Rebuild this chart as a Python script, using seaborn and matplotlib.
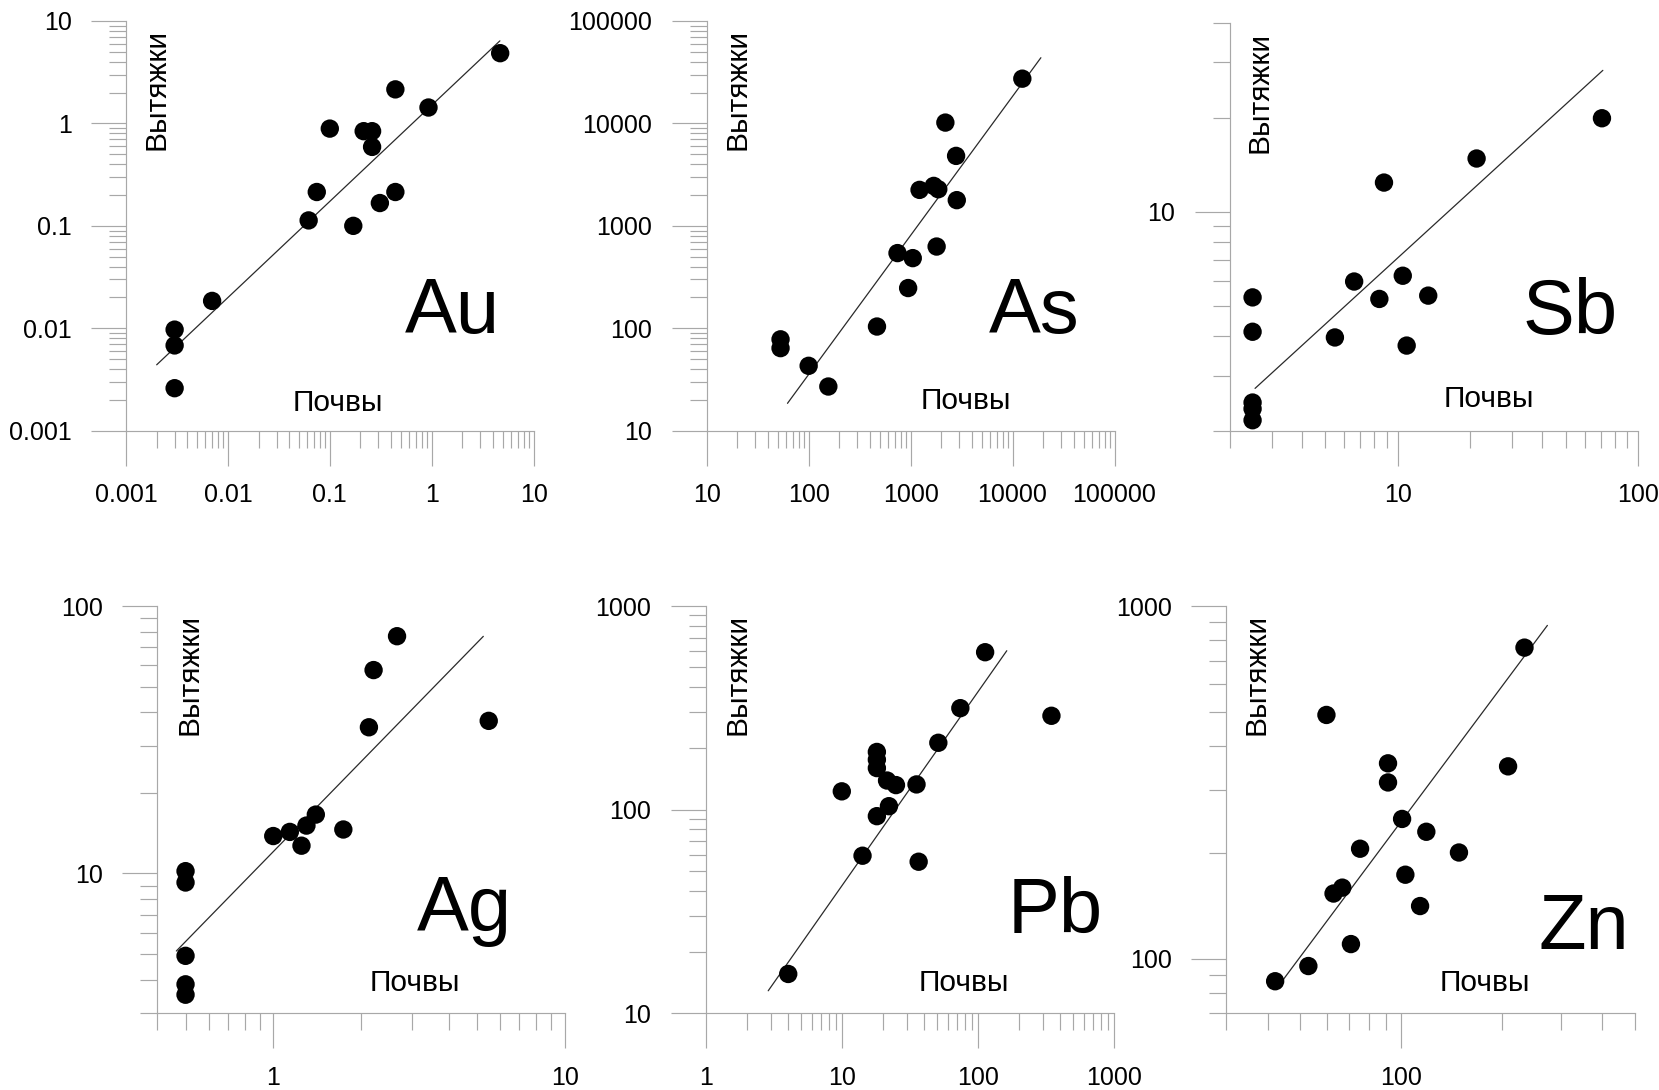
"""Six log-log scatter panels: element content in extracts vs soils.
"""
import numpy as np
import pandas as pd
import matplotlib
matplotlib.use("Agg")
import matplotlib.pyplot as plt
import seaborn as sns
from matplotlib.ticker import LogLocator, FuncFormatter, NullFormatter

# --- data (soil, extract), plus the drawn fit lines ---
au_soil = [0.003, 0.003, 0.003, 0.007, 0.062, 0.0745, 0.1, 0.17, 0.215, 0.26,
           0.26, 0.31, 0.44, 0.44, 0.93, 4.7]
au_extract = [0.0097, 0.0068, 0.0026, 0.0185, 0.113, 0.214, 0.89, 0.1, 0.84, 0.84,
              0.59, 0.167, 0.214, 2.15, 1.43, 4.85]
au_fit_x = [0.002, 4.67]
au_fit_y = [0.0044, 6.4]

as_soil = [53, 53, 100, 156, 468, 744, 1050, 946, 1224, 1686, 1868, 1800, 2838,
           2794, 2193, 12470]
as_extract = [78, 64, 43, 27, 104, 542, 484, 247, 2245, 2455, 2278, 628, 1782,
              4820, 10190, 27350]
as_fit_x = [62, 18960]
as_fit_y = [18.5, 43800]

sb_soil = [2.49, 2.49, 2.49, 2.49, 2.49, 5.48, 6.59, 8.39, 8.77, 10.5, 10.9, 13.4,
           21.3, 70.8]
sb_extract = [5.33, 4.14, 2.46, 2.35, 2.16, 3.97, 5.99, 5.27, 12.4, 6.25, 3.74, 5.4,
              14.8, 19.9]
sb_fit_x = [2.55, 71.4]
sb_fit_y = [2.73, 28.3]

ag_soil = [0.5, 0.5, 0.5, 0.5, 0.5, 1.0, 1.14, 1.25, 1.3, 1.4, 1.74, 2.13, 2.21,
           2.66, 5.49]
ag_extract = [10.2, 9.25, 4.92, 3.85, 3.52, 13.8, 14.3, 12.7, 15.1, 16.6, 14.6, 35.2,
              57.6, 77.1, 37.2]
ag_fit_x = [0.465, 5.26]
ag_fit_y = [5.13, 77]

pb_soil = [4.04, 10, 14.2, 18.1, 18.1, 18.1, 18.1, 22.2, 21.5, 25, 35.4, 36.7, 51.2,
           74.3, 113, 347]
pb_extract = [15.6, 123, 59.4, 92.9, 192, 176, 160, 104, 139, 132, 133, 55.5, 213,
              315, 593, 289]
pb_fit_x = [2.88, 163]
pb_fit_y = [12.9, 603]

zn_soil = [42, 52.8, 59.8, 62.8, 66.7, 70.8, 75.4, 91.4, 91.4, 100.7, 103, 114, 119,
           149, 209, 234]
zn_extract = [86.3, 95.3, 491, 153, 159, 110, 205, 358, 316, 249, 173, 141, 229, 200,
              351, 762]
zn_fit_x = [44.4, 274]
zn_fit_y = [87.2, 881]

x_label = 'Почвы'
y_label = 'Вытяжки'

sns.set_theme(style="ticks")
plt.rcParams['font.family'] = ['Liberation Sans', 'DejaVu Sans']

W, H = 1659, 1090
GREY = '#a8a8a8'

# name, soil, extract, fit x, fit y, xlim, ylim, box (left, right, top, bottom px),
# Почвы position, Вытяжки x, element label position
panels = [
    ('Au', au_soil, au_extract, au_fit_x, au_fit_y, (0.001, 10), (0.001, 10),
     (126, 533.6, 21, 430.7), (0.519, 0.068), 0.076, (0.918, 0.238)),
    ('As', as_soil, as_extract, as_fit_x, as_fit_y, (10, 100000), (10, 100000),
     (706.7, 1114.5, 21, 430.7), (0.635, 0.073), 0.076, (0.913, 0.238)),
    ('Sb', sb_soil, sb_extract, sb_fit_x, sb_fit_y, (2, 100), (2, 40),
     (1229.7, 1638, 23.3, 430.7), (0.634, 0.077), 0.074, (0.949, 0.238)),
    ('Ag', ag_soil, ag_extract, ag_fit_x, ag_fit_y, (0.4, 10), (3, 100),
     (157.3, 564.6, 606, 1013.3), (0.633, 0.074), 0.079, (0.871, 0.202)),
    ('Pb', pb_soil, pb_extract, pb_fit_x, pb_fit_y, (1, 1000), (10, 1000),
     (705.7, 1114, 606, 1013.3), (0.632, 0.074), 0.078, (0.972, 0.197)),
    ('Zn', zn_soil, zn_extract, zn_fit_x, zn_fit_y, (30, 500), (70, 1000),
     (1226.3, 1634.7, 606, 1013.3), (0.632, 0.074), 0.075, (0.986, 0.158)),
]


def plain(v, pos):
    return "{:.6f}".format(v).rstrip('0').rstrip('.')


fig = plt.figure(figsize=(W / 100, H / 100), dpi=100, facecolor='white')

for name, xs, ys, fx, fy, xlim, ylim, box, soil_pos, extr_x, lab_pos in panels:
    left, right, top, bottom = box
    ax = fig.add_axes([left / W, 1 - bottom / H, (right - left) / W, (bottom - top) / H])
    ax.set_facecolor('white')

    df = pd.DataFrame({'soil': xs, 'extract': ys})
    sns.lineplot(x=fx, y=fy, ax=ax, color='#2a2a2a', linewidth=0.9, sort=False)
    sns.scatterplot(data=df, x='soil', y='extract', ax=ax, s=175, color='black',
                    edgecolor='none', linewidth=0, clip_on=False, zorder=3)

    ax.set_xscale('log')
    ax.set_yscale('log')
    ax.set_xlim(*xlim)
    ax.set_ylim(*ylim)
    for axis in (ax.xaxis, ax.yaxis):
        axis.set_major_locator(LogLocator(base=10, numticks=20))
        axis.set_minor_locator(LogLocator(base=10, subs=np.arange(2, 10), numticks=20))
        axis.set_major_formatter(FuncFormatter(plain))
        axis.set_minor_formatter(NullFormatter())

    ax.tick_params(which='major', direction='out', length=25.2, width=0.85, color=GREY,
                   labelsize=18, labelcolor='black')
    ax.tick_params(which='minor', direction='out', length=12, width=0.85, color=GREY)
    ax.tick_params(axis='x', which='major', pad=12.5)
    ax.tick_params(axis='y', which='major', pad=14)
    for s in ('top', 'right'):
        ax.spines[s].set_visible(False)
    for s in ('left', 'bottom'):
        ax.spines[s].set_color(GREY)
        ax.spines[s].set_linewidth(0.85)
    ax.set_xlabel('')
    ax.set_ylabel('')

    ax.text(soil_pos[0], soil_pos[1], x_label, transform=ax.transAxes,
            ha='center', va='center', fontsize=21.5, color='black')
    ax.text(extr_x, 0.98, y_label, transform=ax.transAxes, rotation=90,
            ha='center', va='top', fontsize=21.5, color='black')
    ax.text(lab_pos[0], lab_pos[1], name, transform=ax.transAxes,
            ha='right', va='baseline', fontsize=56, color='black')

fig.savefig('out.png', dpi=100, facecolor='white')
